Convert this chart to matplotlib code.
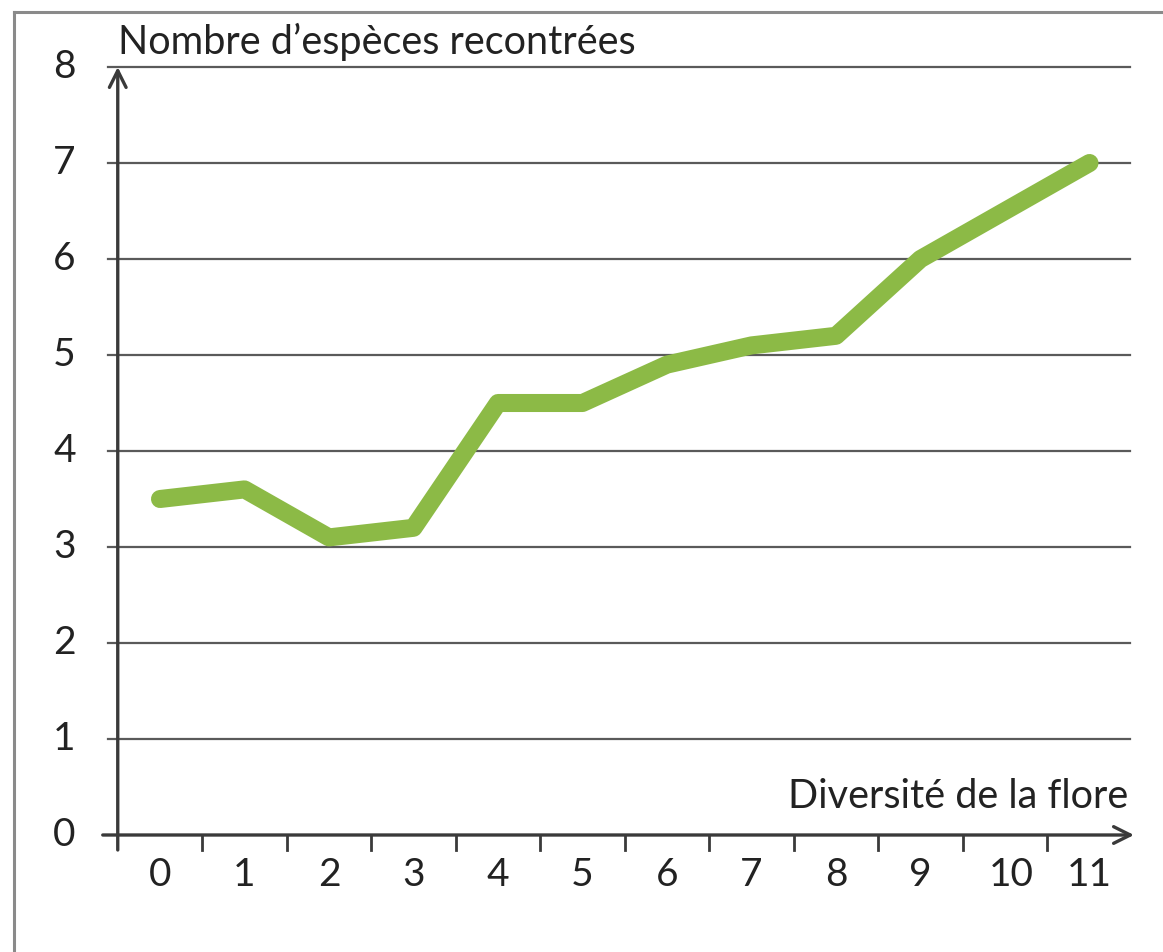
import matplotlib.pyplot as plt
import matplotlib.lines as mlines

plt.rcParams['font.family'] = ['Lato', 'DejaVu Sans']

# données
categories = list(range(12))
nb_especes = [3.5, 3.6, 3.1, 3.2, 4.5, 4.5, 4.9, 5.1, 5.2, 6.0, 6.5, 7.0]
y_ticks = list(range(9))

W, H = 1163, 952
fig = plt.figure(figsize=(W / 100, H / 100), dpi=100)

# cadre gris (haut et gauche seulement, comme sur l'image)
fig.add_artist(mlines.Line2D([14 / W, 14 / W], [0, 1 - 12 / H], transform=fig.transFigure,
                             color='#8a8a8a', linewidth=2.2))
fig.add_artist(mlines.Line2D([14 / W, 1], [1 - 12 / H, 1 - 12 / H], transform=fig.transFigure,
                             color='#8a8a8a', linewidth=2.2))

# axes placés en pixels : x de 100 à 1140, y de 60 à 860
ax = fig.add_axes([100 / W, (H - 860) / H, 1040 / W, 800 / H])
px_per_x = 84.5
px_per_y = 96.0
ax.set_xlim((100 - 160) / px_per_x, (1140 - 160) / px_per_x)
ax.set_ylim((835 - 860) / px_per_y, (835 - 60) / px_per_y)
ax.axis('off')

x_left = -0.5
x_right = (1130 - 160) / px_per_x
tick_len = 15 / px_per_y
txt_color = '#222222'

# lignes horizontales
for v in y_ticks[1:]:
    ax.plot([x_left - 10 / px_per_x, x_right], [v, v], color='#5a5a5a', linewidth=1.6, zorder=1)
for v in y_ticks:
    ax.text(x_left - 42 / px_per_x, v, str(v), ha='right', va='center',
            fontsize=28, color=txt_color)

# axe des abscisses avec flèche
ax.annotate('', xy=(x_right + 4 / px_per_x, 0), xytext=(x_left - 15 / px_per_x, 0),
            arrowprops=dict(arrowstyle='->', color='#3a3a3a', lw=2.4,
                            mutation_scale=30, shrinkA=0, shrinkB=0), zorder=3)
# axe des ordonnées avec flèche
ax.annotate('', xy=(x_left, 8), xytext=(x_left, -tick_len),
            arrowprops=dict(arrowstyle='->', color='#3a3a3a', lw=2.4,
                            mutation_scale=30, shrinkA=0, shrinkB=0), zorder=3)

# graduations entre les catégories
for c in categories[1:]:
    ax.plot([c - 0.5, c - 0.5], [0, -tick_len], color='#3a3a3a', linewidth=2, zorder=3)

# étiquettes des catégories
for c in categories:
    ax.text(c + (0.08 if c == 10 else 0), -0.42, str(c), ha='center', va='center',
            fontsize=28, color=txt_color)

# courbe
ax.plot(categories, nb_especes, color='#8cba46', linewidth=13,
        solid_capstyle='round', solid_joinstyle='round', zorder=4)

# titres des axes
ax.text(x_left, 8 + 6 / px_per_y, 'Nombre d\u2019esp\u00e8ces recontr\u00e9es', ha='left', va='bottom',
        fontsize=28.5, color=txt_color)
ax.text(x_right - 2 / px_per_x, 0 + 20 / px_per_y, 'Diversit\u00e9 de la flore', ha='right',
        va='bottom', fontsize=28.5, color=txt_color)

plt.savefig('out.png', dpi=100)
